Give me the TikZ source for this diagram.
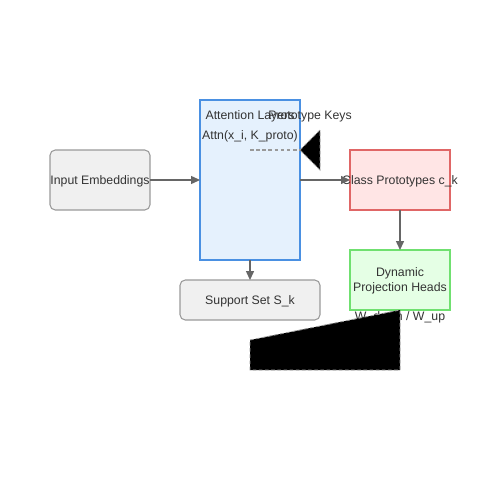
\documentclass[tikz,border=0pt]{standalone}
\usepackage{fontspec}
\setmainfont{Liberation Sans}
\usetikzlibrary{arrows.meta}
\definecolor{edgegray}{HTML}{666666}
\definecolor{boxgray}{HTML}{F0F0F0}
\definecolor{boxgraystroke}{HTML}{999999}
\definecolor{bluefill}{HTML}{E5F1FD}
\definecolor{bluestroke}{HTML}{4A90E2}
\definecolor{redfill}{HTML}{FFE5E5}
\definecolor{redstroke}{HTML}{E06666}
\definecolor{greenfill}{HTML}{E5FFE5}
\definecolor{greenstroke}{HTML}{70E070}
\definecolor{txt}{HTML}{333333}
\begin{document}
\begin{tikzpicture}[x=0.02cm,y=-0.02cm,
  every node/.style={font=\fontsize{7pt}{8.5pt}\selectfont, text=txt, inner sep=0pt},
  graybox/.style={draw=boxgraystroke, fill=boxgray, rounded corners=3pt, line width=0.6pt},
  bluebox/.style={draw=bluestroke, fill=bluefill, line width=0.6pt},
  redbox/.style={draw=redstroke, fill=redfill, line width=0.6pt},
  greenbox/.style={draw=greenstroke, fill=greenfill, line width=0.6pt},
  conn/.style={draw=edgegray, line width=0.6pt, -{Triangle[length=5pt,width=4.5pt]}},
  dashconn/.style={draw=boxgraystroke, line width=0.6pt, dashed, dash pattern=on 2pt off 1.5pt}
]
\useasboundingbox (0,0) rectangle (500,500);
% boxes
\path[graybox] (50,150) rectangle (150,210);
\node (inp) at (100,181.5) {Input Embeddings};
\coordinate (inpE) at (150,180);
\path[bluebox] (200,100) rectangle (300,260);
\coordinate (attW) at (200,180);
\coordinate (attE) at (300,180);
\coordinate (attS) at (250,260);
\node (attl) at (250,116.5) {Attention Layers};
\node (attf) at (250,136.5) {Attn(x\_i, K\_proto)};
\node (pk) at (310,116.5) {Prototype Keys};
\path[redbox] (350,150) rectangle (450,210);
\node (cls) at (400,181.5) {Class Prototypes c\_k};
\coordinate (clsW) at (350,180);
\coordinate (clsS) at (400,210);
\path[greenbox] (350,250) rectangle (450,310);
\node[align=center] (dyn) at (400,280.5) {Dynamic\\Projection Heads};
\coordinate (dynN) at (400,250);
\path[graybox] (180,280) rectangle (320,320);
\node (sup) at (250,301.5) {Support Set S\_k};
\coordinate (supN) at (250,280);
% dashed prototype key connection
\coordinate (dk1) at (250,150);
\coordinate (dk2) at (300,150);
\draw[dashconn] (dk1) -- (dk2);
\filldraw[fill=black, draw=boxgraystroke, line width=0.5pt, dash pattern=on 2pt off 1.5pt] (300,150) -- (320,130) -- (320,170) -- cycle;
\node (wdu) at (400,317) {W\_down / W\_up};
\filldraw[fill=black, draw=boxgraystroke, line width=0.5pt, dash pattern=on 2pt off 1.5pt] (250,340) -- (400,310) -- (400,370) -- (250,370) -- cycle;
% arrows
\draw[conn] (inpE) -- (attW);
\draw[conn] (attE) -- (clsW);
\draw[conn] (clsS) -- (dynN);
\draw[conn] (attS) -- (supN);
\end{tikzpicture}
\end{document}
